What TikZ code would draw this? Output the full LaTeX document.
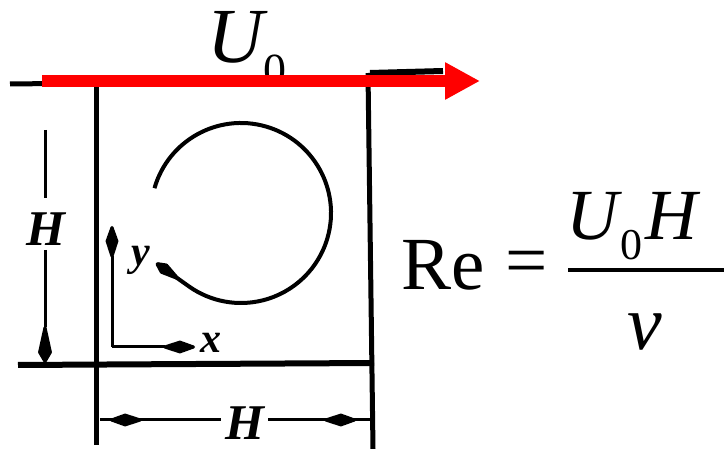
\documentclass[tikz,border=0pt]{standalone}
\usepackage{fontspec}
\setmainfont{Liberation Serif}
\newfontfamily\tms{Liberation Serif}
\usetikzlibrary{arrows.meta,calc}
\begin{document}
\begin{tikzpicture}[x=1pt,y=-1pt,
  wall/.style={line width=5pt},
  dimline/.style={line width=3pt},
  blob/.style={-{Kite[length=38pt,width=13pt,inset=20pt,round]}},
  lbl/.style={inner sep=0pt,font=\tms\fontsize{50}{60}\selectfont\bfseries\itshape},
  axlbl/.style={inner sep=0pt,font=\tms\fontsize{42}{50}\selectfont\bfseries\itshape},
  big/.style={inner sep=0pt,font=\tms\fontsize{75}{90}\selectfont},
  bigit/.style={inner sep=0pt,font=\tms\fontsize{72}{86}\selectfont\itshape},
  subs/.style={inner sep=0pt,font=\tms\fontsize{44}{52}\selectfont}]
\useasboundingbox (0,0) rectangle (724,449);
% corners and ends
\coordinate (lidL) at (10,84);
\coordinate (lidM) at (372,80);
\coordinate (lidR1) at (370,73);
\coordinate (lidR) at (443,71);
\coordinate (lwT) at (96,83);
\coordinate (lwB) at (96,445);
\coordinate (rwT) at (368,73);
\coordinate (rwB) at (373,449);
\coordinate (botL) at (18,365);
\coordinate (botR) at (374,363);
% cavity lines
\draw[wall] (lidL) -- (lidM);
\draw[line width=6pt] (lidR1) -- (lidR);
\draw[wall] (lwT) -- (lwB);
\draw[wall] (rwT) -- (rwB);
\draw[line width=6pt] (botL) -- (botR);
% left dimension
\coordinate (ldT) at (45,130);
\coordinate (ldM1) at (45,198);
\coordinate (ldM2) at (45,250);
\coordinate (ldB) at (45,363);
\draw[dimline] (ldT) -- (ldM1);
\draw[dimline,-{Kite[length=44pt,width=14pt,inset=32pt,round]}] (ldM2) -- (ldB);
\node[lbl] (hleft) at (46,229) {H};
% bottom dimension
\coordinate (bdL) at (100,420);
\coordinate (bdM1) at (221,420);
\coordinate (bdM2) at (268,420);
\coordinate (bdR) at (370,420);
\draw[dimline] (bdL) -- (bdM1);
\draw[dimline] (bdM2) -- (bdR);
\coordinate (bbA) at (152,420);
\coordinate (bbB) at (110,420);
\coordinate (bbC) at (318,420);
\coordinate (bbD) at (356,420);
\draw[dimline,blob] (bbA) -- (bbB);
\draw[dimline,blob] (bbC) -- (bbD);
\node[lbl] (hbot) at (245,423) {H};
% axes
\coordinate (org) at (112,347);
\coordinate (yend) at (112,226);
\coordinate (xend) at (195,347);
\draw[dimline,blob] (org) -- (yend);
\draw[dimline,blob] (org) -- (xend);
\node[axlbl] (ylab) at (141,260) {y};
\node[axlbl] (xlab) at (211,343) {x};
% vortex
\coordinate (vc) at (241,213);
\coordinate (vtip) at (156,263);
\draw[line width=4pt,line join=round,-{Kite[length=36pt,width=12pt,inset=24pt,round]}] ($(vc)+(164:90pt)$) arc[start angle=164,end angle=-125,radius=90pt] -- (vtip);
% lid velocity arrow
\coordinate (uS) at (42,81);
\coordinate (uE) at (480,81);
\node[bigit,font=\tms\fontsize{78}{90}\selectfont\itshape,anchor=base west] (U) at (207,63) {U};
\node[subs,font=\tms\fontsize{46}{56}\selectfont,anchor=base west] (U0) at ([yshift=-23pt]U.base east) {0};
\draw[red,line width=12pt,-{Triangle[length=35pt,width=35pt]}] (uS) -- (uE);
% Reynolds number
\node[big,anchor=base west] (re) at (401,290) {Re};
\node[big] (eq) at (527,268) {=};
\coordinate (fbL) at (568,270);
\coordinate (fbR) at (724,270);
\draw[line width=4.5pt] (fbL) -- (fbR);
\node[bigit,anchor=base west] (nU) at (566,240) {U};
\node[subs,anchor=base west] (n0) at ([yshift=-20pt,xshift=2pt]nU.base east) {0};
\node[bigit,anchor=base west] (nH) at ([yshift=20pt,xshift=2pt]n0.base east) {H};
\node[bigit,font=\tms\fontsize{78}{90}\selectfont\itshape,anchor=base] (nu) at (645,350) {ν};
\end{tikzpicture}
\end{document}
